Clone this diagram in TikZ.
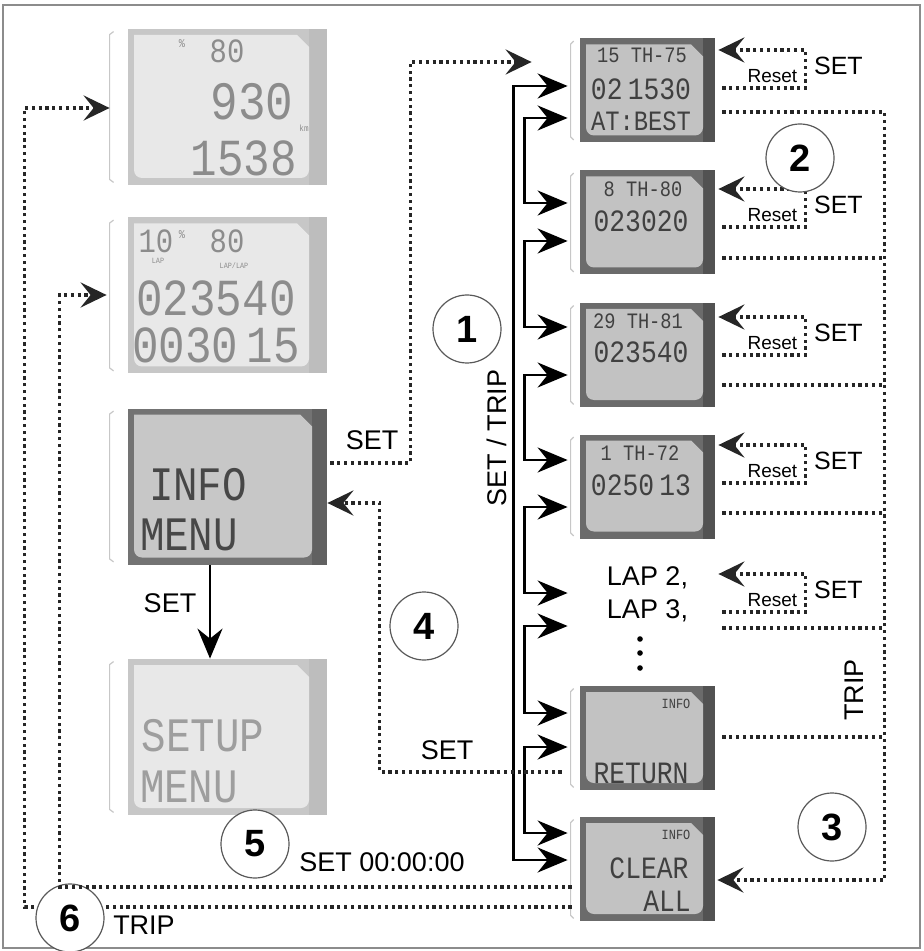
\documentclass[tikz,border=0pt]{standalone}
\usepackage{fontspec}
\setmainfont{Liberation Sans}
\newfontfamily\lcdfont{Liberation Mono}[FakeStretch=0.85]
\usepackage{tikz}
\usetikzlibrary{positioning, arrows.meta, calc}

\begin{document}
\begin{tikzpicture}[
  x=0.5pt, y=-0.5pt,
  lcd/.style n args={4}{rectangle, inner sep=0pt, fill=#1,
    path picture={
      \fill[#3] ($(path picture bounding box.north east)+(-#4,0)$)
        rectangle (path picture bounding box.south east);
      \fill[#2] ($(path picture bounding box.north west)+(6,6)$)
        -- ($(path picture bounding box.north east)+(-#4-12,6)$)
        -- ($(path picture bounding box.north east)+(-#4,18)$)
        [rounded corners=4pt] -- ($(path picture bounding box.south east)+(-#4,-7)$)
        -- ($(path picture bounding box.south west)+(6,-7)$) [sharp corners] -- cycle;
    }},
  dispR/.style={lcd={black!58}{black!24}{black!68}{12},
                minimum width=67.5pt, minimum height=52pt},
  dispM/.style={lcd={black!55}{black!22}{black!62}{15},
                minimum width=99.5pt, minimum height=78pt},
  dispL/.style={lcd={black!22}{black!9}{black!26}{18},
                minimum width=99.5pt, minimum height=78pt},
  lapbox/.style={rectangle, inner sep=0pt, minimum width=67.5pt, align=center,
                 font=\fontsize{13.5}{16.5}\selectfont},
  lcdtxt/.style={font=\lcdfont\fontsize{#1}{#1}\selectfont, inner sep=0pt,
                 text=black!75},
  pale/.style={text=black!45},
  lbl/.style={font=\fontsize{13.5}{16.5}\selectfont, inner sep=0pt},
  reset/.style={font=\fontsize{9.5}{10}\selectfont, inner sep=0pt},
  setr/.style={font=\fontsize{12.5}{14}\selectfont, inner sep=0pt},
  num/.style={circle, draw=black!65, line width=0.6pt, fill=white,
              minimum size=34pt, inner sep=0pt,
              font=\bfseries\fontsize{19}{19}\selectfont},
  arr/.style={line width=1.3pt, >={Stealth[length=15pt, width=12.5pt, inset=5pt]}},
  dots/.style={line width=1.8pt, black!85, dash pattern=on 1.6pt off 1.8pt,
               >={Stealth[length=13pt, width=12.5pt, inset=5pt]}},
  brk/.style={black!22, line width=0.6pt},
]
\useasboundingbox (0,0) rectangle (924,951);
\draw[black!45, line width=0.6pt] (3,5) rectangle (920,948);

% left column
\node[dispL] at (227.5,107)   (da)    {};
\node[dispL] at (227.5,295.5) (db)    {};
\node[dispM] at (227.5,486.5) (info)  {};
\node[dispL] at (227.5,737)   (setup) {};

% right column
\node[dispR]  at (647.5,90.5)  (r1)  {};
\node[dispR]  at (647.5,222.5) (r2)  {};
\node[dispR]  at (647.5,355)   (r3)  {};
\node[dispR]  at (647.5,486.5) (r4)  {};
\node[lapbox] at (647.5,594)   (lap) {LAP 2,\\LAP 3,};
\node[dispR]  at (647.5,738)   (ret) {};
\node[dispR]  at (647.5,869)   (clr) {};

\foreach \d in {da,db,info,setup}
  \draw[brk] ($(\d.north west)+(-14,3)$) -- ++(-4,3) -- ($(\d.south west)+(-18,-6)$) -- ++(4,3);
\foreach \d in {r1,r2,r3,r4,ret,clr}
  \draw[brk] ($(\d.north west)+(-6,3)$) -- ++(-3,3) -- ($(\d.south west)+(-9,-6)$) -- ++(3,3);
\foreach \y in {639,653,668}
  \fill (640,\y) circle (2.8);

% display texts
\node[lcdtxt=6, pale]   (da1) at (182,44)  {\%};
\node[lcdtxt=17, pale]  (da2) at (227,51)  {80};
\node[lcdtxt=27, pale]  (da3) at (252,102) {930};
\node[lcdtxt=4.5, pale] (da4) at (304,128) {km};
\node[lcdtxt=26, pale]  (da5) at (244,158) {1538};
\node[lcdtxt=17, pale]  (db1) at (156,241) {10};
\node[lcdtxt=6, pale]   (db2) at (182,235) {\%};
\node[lcdtxt=17, pale]  (db3) at (227,241) {80};
\node[lcdtxt=4, pale]   (db4) at (158,261) {LAP};
\node[lcdtxt=4, pale]   (db5) at (234,266) {LAP/LAP};
\node[lcdtxt=26, pale]  (db6) at (216,298) {023540};
\node[lcdtxt=26, pale]  (db7) at (216,345) {0030\,15};
\node[lcdtxt=24, text=black!72] (in1) at (198,485) {INFO};
\node[lcdtxt=24, text=black!72] (in2) at (189,535) {MENU};
\node[lcdtxt=24, text=black!38] (su1) at (203,736) {SETUP};
\node[lcdtxt=24, text=black!38] (su2) at (189,787) {MENU};

\node[lcdtxt=11]   (r1a)  at (642,55)  {15 TH-75};
\node[lcdtxt=15.5] (r1b)  at (641,89)  {02\,1530};
\node[lcdtxt=14]   (r1c)  at (641,121) {AT:BEST};
\node[lcdtxt=11]   (r2a)  at (643,189) {8 TH-80};
\node[lcdtxt=15.5] (r2b)  at (641,221) {023020};
\node[lcdtxt=11]   (r3a)  at (638,321) {29 TH-81};
\node[lcdtxt=15.5] (r3b)  at (641,352) {023540};
\node[lcdtxt=11]   (r4a)  at (640,453) {1 TH-72};
\node[lcdtxt=15.5] (r4b)  at (641,485) {0250\,13};
\node[lcdtxt=7]    (reta) at (676,704) {INFO};
\node[lcdtxt=15.5] (retb) at (641,773) {RETURN};
\node[lcdtxt=7]    (clra) at (676,835) {INFO};
\node[lcdtxt=15.5] (clrb) at (649,868) {CLEAR};
\node[lcdtxt=15.5] (clrc) at (667,901) {ALL};

% SET / TRIP chain
\draw[arr,<->] ($(r1.west)+(-12,-4.5)$) -- ++(-54,0) |- ($(clr.west)+(-12,-9)$);
\foreach \a/\pa/\b/\pb in {r1/27.5/r2/-19.5, r2/18.5/r3/-28, r3/20/r4/-26.5,
                           r4/20.5/lap/-1, lap/32/ret/-25, ret/9/clr/-36}
  \draw[arr,<->] ($(\a.west)+(-12,\pa)$) -- ++(-43,0) |- ($(\b.west)+(-12,\pb)$);
\draw[arr,->] ($(info.south)+(-17.5,0)$) -- ($(setup.north)+(-17.5,0)$);

% reset loops and trip line
\foreach \d/\b in {r1/-2.5, r2/4.5, r3/0, r4/-3.5, lap/18} {
  \draw[dots,->] ($(\d.east)+(7,\b)$) -- ++(83,0) |- ($(\d.east)+(3,\b-38)$);
  \node[reset] (\d rs) at ($(\d.east)+(57,\b-12)$) {Reset};
  \node[setr]  (\d st) at ($(\d.east)+(123,\b-22)$) {SET};
}
\foreach \d/\b in {r2/35.5, r3/30, r4/26.5, lap/34, ret/-1}
  \draw[dots] ($(\d.east)+(7,\b)$) -- ++(162,0);
\draw[dots,->] ($(r1.east)+(7,21.5)$) -- ++(162,0) |- ($(clr.east)+(2,11)$);

% dotted returns on the left
\draw[dots,->] ($(info.east)+(3,-23.5)$) -- ++(80,0) |- ($(r1.west)+(-48,-28.5)$);
\draw[dots,->] ($(ret.west)+(-18,34)$) -- ++(-182,0) |- ($(info.east)+(0,16.5)$);
\draw[dots,->] ($(clr.west)+(-8,38)$) -- ++(-547,0) |- ($(da.west)+(-18,1)$);

% step numbers
\node[num] at (467,329) (n1) {1};
\node[num] at (800,158) (n2) {2};
\node[num] at (832,827) (n3) {3};
\node[num] at (424,626) (n4) {4};
\node[num] at (255,844) (n5) {5};
\node[num] at (70,918)  (n6) {6};

\draw[dots,->] ($(clr.west)+(-8,18)$) -- ++(-512,0) |- ($(db.west)+(-21,-0.5)$);

% labels
\node[lbl] (lset1) at (372,440) {SET};
\node[lbl] (lset2) at (170,603) {SET};
\node[lbl] (lset3) at (447,750) {SET};
\node[lbl] (lzero) at (382,862) {SET 00:00:00};
\node[lbl] (ltrp1) at (144,925) {TRIP};
\node[lbl, rotate=90] (ltrp2) at (854,690) {TRIP};
\node[lbl, rotate=90] (lst)   at (497,438) {SET / TRIP};
\end{tikzpicture}
\end{document}
